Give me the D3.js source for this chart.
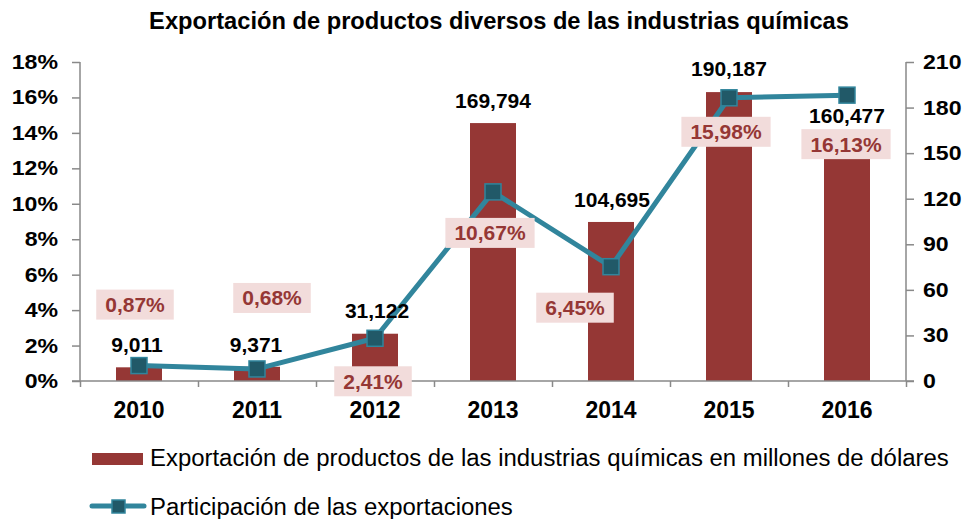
<!DOCTYPE html>
<html lang="es">
<head>
<meta charset="UTF-8" />
<title>Exportación de productos diversos de las industrias químicas</title>
<script src="https://d3js.org/d3.v7.min.js"></script>
<style>
  body { margin: 0; background: #fff; }
  svg text { font-family: "Liberation Sans", Arial, sans-serif; }
</style>
</head>
<body>
<div id="chart"></div>
<script>
// datos
const years = ["2010", "2011", "2012", "2013", "2014", "2015", "2016"];
const exportValues = [9011, 9371, 31122, 169794, 104695, 190187, 160477]; // millones de dólares
const shareValues = [0.87, 0.68, 2.41, 10.67, 6.45, 15.98, 16.13];       // %
const leftTicks = [0, 2, 4, 6, 8, 10, 12, 14, 16, 18];
const rightTicks = [0, 30, 60, 90, 120, 150, 180, 210];

// desplazamientos de etiquetas (px)
const barLabelShift = [[-2, -15], [-1, -15], [2, -16], [0, -15], [1, -15], [0, -16], [0, -14]];
const lineLabelShift = [[-4, -61], [15, -71], [-2, 43], [-3, 41], [-36, 41], [-3, 34], [-1, 49]];

const W = 972, H = 519;
const margin = { left: 80, right: 66, top: 62, bottom: 138 };
const x0 = margin.left, x1 = W - margin.right;
const y0 = H - margin.bottom, y1 = margin.top;

const barColor = "#953735", lineColor = "#31859c", markerFill = "#215968";
const axisColor = "#898989";

const svg = d3.select("#chart").append("svg")
  .attr("width", W).attr("height", H);

function txt(g, x, y, s, opts) {
  const o = Object.assign({ size: 21, weight: "bold", anchor: "middle", fill: "#000", sx: 1 }, opts || {});
  return g.append("text")
    .attr("transform", `translate(${x},${y}) scale(${o.sx},1)`)
    .attr("text-anchor", o.anchor)
    .attr("font-size", o.size)
    .attr("font-weight", o.weight)
    .attr("fill", o.fill)
    .text(s);
}

const x = d3.scaleBand().domain(years).range([x0, x1]).paddingInner(0).paddingOuter(0);
const yL = d3.scaleLinear().domain([0, 18]).range([y0, y1]);
const yR = d3.scaleLinear().domain([0, 210]).range([y0, y1]);
const barW = 46;

// titulo
txt(svg, 499, 29, "Exportación de productos diversos de las industrias químicas", { size: 23, sx: 1.03 });

// barras
svg.append("g").selectAll("rect").data(years).join("rect")
  .attr("x", d => x(d) + x.bandwidth() / 2 - barW / 2)
  .attr("y", (d, i) => yR(exportValues[i] / 1000))
  .attr("width", barW)
  .attr("height", (d, i) => y0 - yR(exportValues[i] / 1000))
  .attr("fill", barColor);

// ejes
const axL = svg.append("g").attr("transform", `translate(${x0},0)`)
  .call(d3.axisLeft(yL).tickValues(leftTicks).tickSize(8).tickFormat(""));
const axR = svg.append("g").attr("transform", `translate(${x1},0)`)
  .call(d3.axisRight(yR).tickValues(rightTicks).tickSize(8).tickFormat(""));
const bounds = years.map(d => x(d)).concat([x1]);
const axB = svg.append("g").attr("transform", `translate(0,${y0})`)
  .call(d3.axisBottom(d3.scaleLinear().domain([x0, x1]).range([x0, x1]))
    .tickValues(bounds).tickSize(6).tickFormat(""));
[axL, axR, axB].forEach(a => {
  a.selectAll("path, line").attr("stroke", axisColor).attr("stroke-width", 1.5);
});
axL.select(".domain").attr("d", `M0,${y0}V${y1}`);
axR.select(".domain").attr("d", `M0,${y0}V${y1}`);
axB.select(".domain").attr("d", `M${x0 - 8},0H${x1 + 8}`);

leftTicks.forEach(t => txt(svg, 58, yL(t) + 7, t + "%", { anchor: "end", sx: 1.1 }));
rightTicks.forEach(t => txt(svg, 923, yR(t) + 7, String(t), { anchor: "start", sx: 1.1 }));
years.forEach(d => txt(svg, x(d) + x.bandwidth() / 2, 418, d, { size: 23 }));

// linea
const pts = years.map((d, i) => [x(d) + x.bandwidth() / 2, yL(shareValues[i])]);
svg.append("path")
  .attr("d", d3.line()(pts))
  .attr("fill", "none")
  .attr("stroke", lineColor)
  .attr("stroke-width", 5)
  .attr("stroke-linejoin", "round");
svg.append("g").selectAll("rect").data(pts).join("rect")
  .attr("x", p => p[0] - 8).attr("y", p => p[1] - 8)
  .attr("width", 16).attr("height", 16)
  .attr("fill", markerFill).attr("stroke", lineColor).attr("stroke-width", 1.5);

// etiquetas de barras
const fmt = d3.format(",");
years.forEach((d, i) => {
  const cx = x(d) + x.bandwidth() / 2;
  txt(svg, cx + barLabelShift[i][0], yR(exportValues[i] / 1000) + barLabelShift[i][1], fmt(exportValues[i]));
});

// etiquetas de la linea
years.forEach((d, i) => {
  const cx = pts[i][0] + lineLabelShift[i][0];
  const cy = pts[i][1] + lineLabelShift[i][1];
  const label = shareValues[i].toFixed(2).replace(".", ",") + "%";
  const g = svg.append("g");
  const t = txt(g, cx, cy + 7.5, label, { fill: barColor });
  const bw = t.node().getComputedTextLength() + 18;
  g.insert("rect", "text")
    .attr("x", cx - bw / 2).attr("y", cy - 15)
    .attr("width", bw).attr("height", 30)
    .attr("fill", "#f2dcdb");
});

// leyenda
svg.append("rect").attr("x", 92).attr("y", 453).attr("width", 51).attr("height", 12).attr("fill", barColor);
txt(svg, 150, 466, "Exportación de productos de las industrias químicas en millones de dólares",
  { anchor: "start", weight: "normal", size: 23, sx: 1.04 });
svg.append("line").attr("x1", 92).attr("x2", 144).attr("y1", 506).attr("y2", 506)
  .attr("stroke", lineColor).attr("stroke-width", 5).attr("stroke-linecap", "round");
svg.append("rect").attr("x", 112).attr("y", 500).attr("width", 13).attr("height", 13)
  .attr("fill", markerFill).attr("stroke", lineColor).attr("stroke-width", 1.5);
txt(svg, 150, 515, "Participación de las exportaciones", { anchor: "start", weight: "normal", size: 23, sx: 1.04 });
</script>
</body>
</html>
